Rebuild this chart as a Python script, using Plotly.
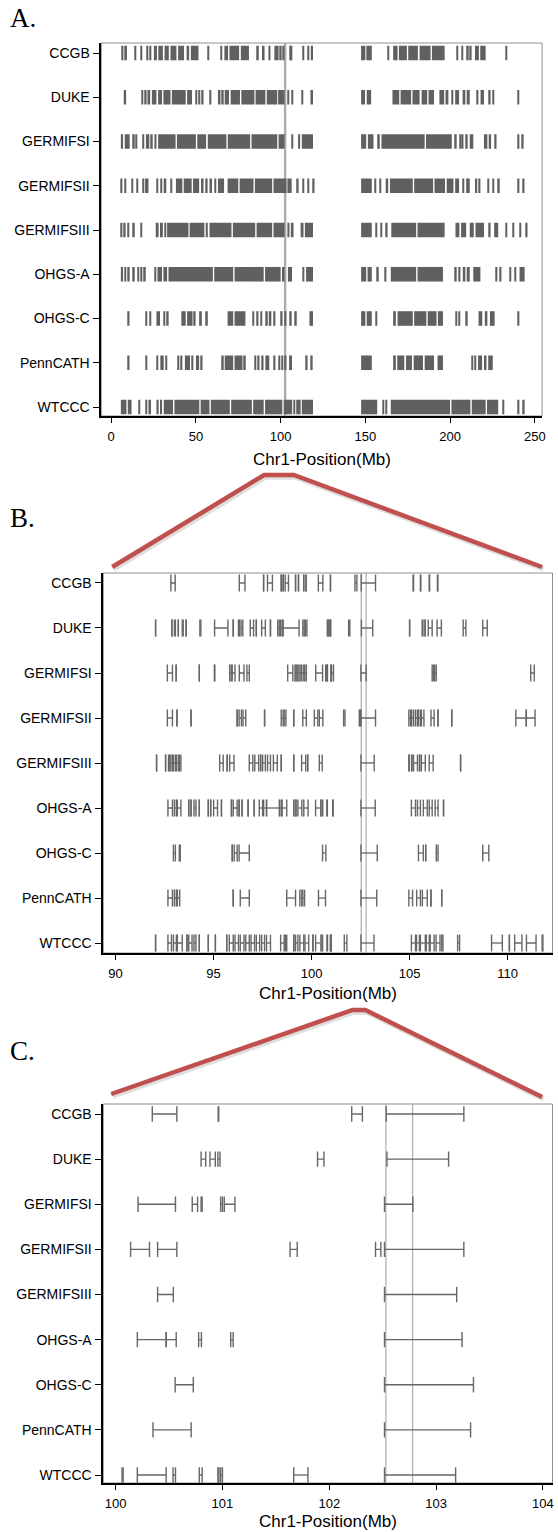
import plotly.graph_objects as go

W, H = 558, 1532

cohorts = ["CCGB", "DUKE", "GERMIFSI", "GERMIFSII", "GERMIFSIII",
           "OHGS-A", "OHGS-C", "PennCATH", "WTCCC"]

# ---------------- Panel A: genome-wide segments (Mb), (start, end); start==end -> single tick
genome_ccgb = [(6.3,7.2),(8.2,9.3),(13.7,13.7),(17.2,17.2),(21.0,21.0),(22.8,23.5),(25.2,27.0),(27.8,30.5),
               (31.5,34.0),(35.0,38.5),(39.5,43.0),(44.5,46.0),(47.0,51.5),(56.7,56.7),(64.5,64.5),(66.8,69.0),
               (69.8,75.5),(76.5,81.3),(86.2,86.2),(89.0,90.5),(92.8,94.0),(96.3,98.8),(99.2,100.6),(101.0,102.3),
               (105.2,105.2),(106.0,106.4),(112.8,112.8),(116.0,116.0),(117.8,119.1),
               (147.5,150.0),(150.6,153.8),(163.2,163.2),(166.4,169.0),(169.8,174.5),(175.3,181.0),(182.0,188.5),
               (189.3,196.8),(203.8,203.8),(206.7,206.7),(209.5,211.0),(211.8,212.6),(214.7,217.0),(217.8,221.0),
               (232.6,232.6)]
genome_duke = [(7.4,8.8),(17.9,17.9),(20.0,20.4),(21.4,23.0),(24.0,26.7),(27.7,30.0),(30.8,35.0),(35.8,44.0),
               (44.8,47.7),(49.8,49.8),(51.5,52.0),(53.6,53.6),(58.2,58.2),(63.0,64.5),(65.5,65.5),(67.0,69.5),
               (70.5,76.0),(76.8,84.5),(85.2,91.0),(91.8,98.0),(98.5,102.3),(104.0,104.0),(106.5,106.5),
               (112.4,112.4),(117.6,119.1),
               (147.5,149.8),(150.8,153.4),(166.0,170.0),(170.8,177.0),(177.8,182.0),(183.2,186.5),(187.3,190.5),
               (193.7,196.5),(197.3,199.0),(201.0,201.0),(203.0,205.3),(207.4,209.0),(209.8,211.6),(215.8,215.8),
               (218.0,220.0),(223.0,223.0),(225.2,225.2),(239.9,239.9)]
genome_germifsi = [(5.7,7.0),(8.0,10.9),(13.0,13.0),(14.5,15.1),(18.3,19.5),(20.5,22.5),(23.5,24.5),(25.5,26.7),
                   (27.7,38.0),(38.8,50.0),(50.8,56.0),(57.0,68.0),(68.8,82.0),(82.8,98.0),(98.8,102.3),
                   (106.5,106.5),(110.3,111.5),(112.5,119.1),
                   (147.5,150.5),(151.5,154.8),(157.0,158.5),(159.5,185.0),(185.8,201.0),(203.0,203.0),
                   (205.5,205.5),(207.0,207.0),(209.5,209.5),(211.6,213.7),(220.0,222.0),(222.8,224.2),
                   (226.5,226.5),(240.0,240.0),(242.5,243.0)]
genome_germifsii = [(5.7,5.7),(7.8,7.8),(12.0,12.0),(15.0,15.0),(18.5,18.5),(20.0,22.0),(26.7,27.5),(29.0,29.0),
                    (31.0,32.5),(35.0,35.0),(38.2,42.0),(42.8,47.5),(48.3,51.9),(53.0,54.5),(56.0,56.0),
                    (58.0,59.5),(61.0,61.0),(63.0,66.6),(68.7,75.0),(75.8,84.0),(84.8,95.0),(95.8,103.5),
                    (104.0,106.5),(109.7,109.7),(112.8,112.8),(116.0,116.0),(119.1,119.1),
                    (147.5,153.8),(155.5,155.5),(158.5,158.5),(162.0,163.5),(164.5,178.0),(178.8,190.0),
                    (190.8,197.0),(198.0,202.0),(203.0,205.3),(207.4,207.4),(209.5,211.6),(214.7,216.0),
                    (216.8,217.9),(222.0,222.0),(225.0,225.0),(228.4,228.4),(240.0,240.0),(243.0,243.0)]
genome_germifsiii = [(5.7,6.5),(7.5,8.5),(9.5,10.0),(13.0,13.0),(17.2,17.2),(26.3,28.0),(28.8,30.5),(31.5,32.0),
                     (33.0,45.6),(46.3,55.0),(55.8,57.0),(58.0,71.0),(71.8,85.0),(85.8,95.0),(95.8,102.3),
                     (104.0,105.2),(106.0,107.6),(111.8,113.5),(114.3,119.1),
                     (147.5,153.8),(155.9,155.9),(159.0,159.0),(162.2,162.2),(165.3,180.0),(180.8,196.8),
                     (203.2,205.5),(206.5,209.5),(211.6,214.0),(215.0,220.0),(223.0,223.0),(226.0,228.4),
                     (232.6,232.6),(236.8,236.8),(241.0,241.0),(244.8,245.0)]
genome_ohgsa = [(5.7,7.0),(8.0,8.6),(9.5,10.9),(13.0,13.0),(15.5,15.5),(17.5,17.5),(19.5,19.5),(25.6,26.5),
                (27.3,30.0),(30.8,33.0),(33.8,60.0),(60.8,72.0),(72.8,90.0),(90.8,100.0),(100.8,102.3),
                (104.3,106.7),(112.8,114.0),(115.0,119.1),
                (147.5,150.5),(151.3,153.8),(157.0,157.0),(161.5,161.5),(165.0,180.0),(180.8,195.8),
                (203.0,203.0),(205.2,205.2),(207.5,209.0),(209.8,211.6),(213.7,217.9),(227.0,227.0),
                (229.4,229.4),(235.0,235.0),(238.0,238.0),(241.0,244.0)]
genome_ohgsc = [(9.9,9.9),(20.4,20.4),(22.5,23.5),(26.7,28.8),(30.9,30.9),(33.0,33.0),(41.4,44.0),(44.8,48.0),
                (48.8,49.8),(51.9,53.5),(56.1,56.1),(68.7,72.0),(72.8,79.2),(83.4,83.4),(86.0,86.0),(88.0,89.0),
                (91.5,91.5),(93.0,94.5),(96.0,96.8),(100.2,101.0),(102.5,103.3),(105.5,106.5),(108.6,109.0),
                (117.0,119.1),
                (147.5,150.0),(150.8,153.8),(155.9,155.9),(166.4,168.0),(169.0,178.0),(178.8,186.0),
                (186.8,192.0),(192.8,195.8),(203.2,203.2),(205.0,206.0),(209.5,209.5),(216.8,219.0),
                (220.5,222.0),(223.5,226.3),(240.0,240.0)]
genome_penncath = [(9.9,9.9),(20.4,20.4),(26.7,26.7),(29.0,31.0),(32.0,33.0),(39.3,39.3),(41.0,42.0),(43.5,46.5),
                   (47.5,48.5),(50.0,51.9),(53.0,53.0),(65.5,66.0),(67.0,72.0),(72.8,77.5),(78.5,79.2),
                   (84.5,84.5),(86.6,87.5),(89.0,89.0),(91.0,93.3),(96.0,96.8),(98.7,99.6),(100.4,100.7),
                   (102.5,103.3),(105.0,106.7),(115.0,115.0),(118.0,118.0),
                   (147.5,153.8),(166.4,168.0),(168.8,173.0),(174.0,177.5),(178.5,184.0),(185.0,190.5),
                   (192.6,195.8),(212.6,212.6),(214.5,215.0),(216.5,218.9),(220.0,221.5),(222.5,225.2)]
genome_wtccc = [(5.7,9.0),(9.8,12.0),(16.2,16.2),(20.4,20.4),(22.0,23.5),(26.7,28.0),(28.8,30.0),(31.0,36.5),
                (37.3,52.0),(52.8,58.0),(58.8,70.0),(70.8,83.0),(83.8,90.0),(90.8,101.0),(101.8,106.8),
                (107.5,107.5),(109.2,111.8),(112.5,119.1),
                (147.5,157.0),(160.0,160.0),(162.0,162.0),(165.0,200.0),(200.8,212.0),(212.8,221.0),
                (221.8,228.4),(231.0,231.0),(240.0,240.0),(243.0,244.0)]

genome_segments = [genome_ccgb, genome_duke, genome_germifsi, genome_germifsii, genome_germifsiii,
                   genome_ohgsa, genome_ohgsc, genome_penncath, genome_wtccc]

# ---------------- Panels B & C: fine intervals (Mb)
fine_ccgb = [(92.82,93.04),(96.31,96.6),(97.55,97.55),(97.75,98.0),(98.45,98.45),(98.55,98.55),(98.65,98.82),
             (99.18,99.18),(99.33,99.33),(99.6,99.6),(99.72,99.72),
             (100.343,100.573),(100.96,100.965),(102.21,102.31),(102.533,103.26),
             (105.18,105.2),(105.55,105.57),(106.0,106.02),(106.42,106.44)]
fine_duke = [(92.04,92.04),(92.87,92.87),(93.0,93.05),(93.2,93.2),(93.4,93.45),(93.6,93.6),(94.3,94.35),
             (95.05,95.73),(96.0,96.0),(96.27,96.32),(96.4,96.49),(96.87,97.04),(97.18,97.18),(97.45,97.64),
             (97.9,97.9),(98.27,98.35),(98.42,98.5),(98.55,99.36),(99.55,99.62),(99.68,99.76),
             (100.80,100.843),(100.883,100.933),(100.957,100.977),(101.89,101.95),(102.54,103.117),
             (105.0,105.0),(105.64,105.68),(105.78,105.8),(105.95,106.15),(106.4,106.62),(107.73,107.87),
             (108.73,108.96)]
fine_germifsi = [(92.64,92.9),(93.09,93.09),(94.27,94.27),(95.04,95.06),(95.82,95.9),(95.95,96.09),(96.31,96.55),
                 (96.7,96.82),(98.78,99.04),(99.15,99.2),(99.25,99.3),(99.36,99.45),(99.5,99.6),(99.65,99.73),
                 (100.21,100.56),(100.717,100.767),(100.80,100.81),(100.983,101.0),(101.017,101.117),
                 (102.517,102.783),
                 (106.15,106.22),(106.28,106.36),(111.18,111.36)]
fine_germifsii = [(92.64,92.9),(93.13,93.13),(93.85,93.85),(96.2,96.2),(96.3,96.42),(96.5,96.64),(97.6,97.6),
                  (98.45,98.55),(98.6,98.69),(99.09,99.09),(99.55,99.73),
                  (100.14,100.317),(100.393,100.573),(101.633,101.70),(102.433,102.483),(102.517,103.26),
                  (104.96,105.05),(105.1,105.2),(105.3,105.4),(105.45,105.55),(105.6,105.73),(106.09,106.25),
                  (106.45,106.45),(107.15,107.15),(110.42,110.95),(110.95,111.4)]
fine_germifsiii = [(92.09,92.09),(92.55,92.55),(92.7,92.75),(92.82,92.9),(92.95,93.05),(93.1,93.2),(93.25,93.33),
                   (95.31,95.49),(95.69,95.69),(95.82,96.04),(96.82,97.0),(97.1,97.3),(97.4,97.4),(97.5,97.64),
                   (97.75,97.9),(98.05,98.25),(98.45,98.45),(99.09,99.09),(99.49,99.7),(99.8,99.8),
                   (100.393,100.54),(102.517,103.193),
                   (104.96,104.98),(105.1,105.12),(105.2,105.4),(105.5,105.52),(105.6,105.8),(106.0,106.2),
                   (107.6,107.6)]
fine_ohgsa = [(92.67,92.9),(93.0,93.1),(93.15,93.33),(93.73,93.73),(93.85,93.85),(94.0,94.1),(94.27,94.27),
              (94.73,94.73),(94.85,94.85),(95.0,95.2),(95.4,95.4),(95.91,95.91),(96.0,96.2),(96.3,96.3),
              (96.45,96.45),(96.76,96.76),(97.07,97.07),(97.33,97.5),(97.55,97.7),(97.7,98.36),(98.36,98.45),
              (98.5,98.73),(99.09,99.09),(99.2,99.2),(99.3,99.5),(99.6,99.82),
              (100.203,100.473),(100.473,100.567),(100.777,100.803),(101.077,101.10),(102.517,103.243),
              (105.09,105.3),(105.4,105.55),(105.7,105.9),(106.0,106.15),(106.3,106.45),(106.73,106.73)]
fine_ohgsc = [(92.95,93.05),(93.25,93.3),(95.95,95.95),(96.05,96.2),(96.3,96.82),
              (100.557,100.727),(102.517,103.35),
              (105.45,105.7),(105.82,105.82),(106.36,106.45),(108.73,109.04)]
fine_penncath = [(92.67,92.9),(93.0,93.1),(93.15,93.27),(96.0,96.0),(96.36,96.82),(98.73,99.18),(99.4,99.5),
                 (99.55,99.64),
                 (100.35,100.707),(102.517,103.323),
                 (104.96,105.15),(105.36,105.55),(105.65,105.9),(106.09,106.09),(106.64,106.64)]
fine_wtccc = [(92.04,92.04),(92.67,92.85),(92.95,93.1),(93.15,93.4),(93.64,93.64),(93.73,93.9),(94.0,94.1),
              (94.27,94.27),(94.73,94.73),(95.09,95.09),(95.67,95.67),(95.8,96.0),(96.09,96.27),(96.36,96.55),
              (96.64,96.82),(96.91,97.09),(97.18,97.35),(97.45,97.6),(97.7,97.9),(98.42,98.6),(98.66,98.73),
              (99.09,99.09),(99.18,99.3),(99.4,99.6),(99.66,99.85),
              (100.06,100.07),(100.203,100.473),(100.537,100.56),(100.783,100.81),(100.957,100.967),
              (100.983,101.0),(101.667,101.80),(102.517,103.183),
              (105.09,105.3),(105.35,105.5),(105.55,105.8),(105.85,106.0),(106.05,106.25),(106.35,106.55),
              (106.64,106.7),(107.45,107.55),(109.18,109.73),(110.09,110.09),(110.36,110.73),(110.96,111.45),
              (111.76,111.8)]

fine_intervals = [fine_ccgb, fine_duke, fine_germifsi, fine_germifsii, fine_germifsiii,
                  fine_ohgsa, fine_ohgsc, fine_penncath, fine_wtccc]

ref_lines = [102.53, 102.78]

ticks_A = [0, 50, 100, 150, 200, 250]
ticks_B = [90, 95, 100, 105, 110]
ticks_C = [100, 101, 102, 103, 104]

# ---------------- helpers (pixel -> paper)
def px(x):
    return x / W

def py(y):
    return 1 - y / H

FONT = "Liberation Sans, Arial, sans-serif"
MARK = "#606060"
LINE = "#666666"

fig = go.Figure()

# Panel A bars
bx, by, bb = [], [], []
for i, segs in enumerate(genome_segments):
    for s, e in segs:
        bb.append(s)
        bx.append(max(e - s, 0.9))
        by.append(i)
fig.add_trace(go.Bar(x=bx, y=by, base=bb, orientation="h", width=0.33,
                     marker=dict(color=MARK, line=dict(width=0)),
                     xaxis="x", yaxis="y", showlegend=False, hoverinfo="skip"))

# Panels B & C intervals
lx, ly, cx, cy = [], [], [], []
for i, ints in enumerate(fine_intervals):
    for s, e in ints:
        lx += [s, e, None]
        ly += [i, i, None]
        cx += [s, e]
        cy += [i, i]

for ax, cap in (("2", 12), ("3", 11)):
    fig.add_trace(go.Scatter(x=lx, y=ly, mode="lines", line=dict(color=LINE, width=1.3),
                             xaxis="x" + ax, yaxis="y" + ax, showlegend=False, hoverinfo="skip"))
    fig.add_trace(go.Scatter(x=cx, y=cy, mode="markers",
                             marker=dict(symbol="line-ns-open", size=cap, color=LINE,
                                         line=dict(width=1.4, color=LINE)),
                             xaxis="x" + ax, yaxis="y" + ax, showlegend=False, hoverinfo="skip"))

panels = [
    dict(k="", xr=[-5.86, 254.3], xdom=(102, 546), ydom=(43, 416), yr=[8.203, -0.226], ticks=ticks_A),
    dict(k="2", xr=[89.37, 112.29], xdom=(104, 556.5), ydom=(573, 953), yr=[8.222, -0.222], ticks=ticks_B),
    dict(k="3", xr=[99.884, 104.09], xdom=(104, 556.5), ydom=(1104, 1483), yr=[8.177, -0.222], ticks=ticks_C),
]
title_y = [459, 993, 1521]

layout = dict(width=W, height=H, margin=dict(l=0, r=0, t=0, b=0),
              paper_bgcolor="white", plot_bgcolor="white", barmode="overlay",
              showlegend=False, font=dict(family=FONT, color="black"))
shapes = []
annotations = []
for p, ty in zip(panels, title_y):
    k = p["k"]
    layout["xaxis" + k] = dict(domain=[px(p["xdom"][0]), px(p["xdom"][1])], range=p["xr"],
                               anchor="y" + k, tickvals=p["ticks"], ticks="outside", ticklen=5,
                               tickwidth=1.2, tickcolor="black", showline=True, linecolor="black",
                               linewidth=1.5, showgrid=False, zeroline=False,
                               tickfont=dict(size=13, family=FONT), ticklabelstandoff=3)
    layout["yaxis" + k] = dict(domain=[py(p["ydom"][1]), py(p["ydom"][0])], range=p["yr"],
                               anchor="x" + k, tickvals=list(range(len(cohorts))), ticktext=cohorts,
                               ticks="outside", ticklen=7, tickwidth=1.2, tickcolor="black",
                               showline=True, linecolor="black", linewidth=1.5, showgrid=False,
                               zeroline=False, tickfont=dict(size=14, family=FONT))
    xd = "x" + k + " domain"
    yd = "y" + k + " domain"
    shapes.append(dict(type="rect", xref=xd, yref=yd, x0=0, x1=1, y0=0, y1=1,
                       line=dict(color="#8f8f8f", width=1), layer="below"))
    for r in ref_lines:
        shapes.append(dict(type="line", xref="x" + k, yref=yd, x0=r, x1=r, y0=0, y1=1,
                           line=dict(color="#adadad", width=2 if k == "" else 1.2), layer="below"))
    annotations.append(dict(text="Chr1-Position(Mb)", xref="paper", yref="paper",
                            x=px((p["xdom"][0] + p["xdom"][1]) / 2), y=py(ty),
                            xanchor="center", yanchor="middle", showarrow=False,
                            font=dict(size=17, family=FONT, color="black")))

# zoom connector lines (pixel coordinates of the page)
connectors = [
    [(113, 567), (266, 475), (296, 475), (546, 567)],
    [(112, 1094), (355, 1010), (368, 1010), (546, 1097)],
]
for pts in connectors:
    d_shadow = "M " + " L ".join(f"{px(x + 1.5)},{py(y + 2)}" for x, y in pts)
    d = "M " + " L ".join(f"{px(x)},{py(y)}" for x, y in pts)
    shapes.append(dict(type="path", xref="paper", yref="paper", path=d_shadow,
                       line=dict(color="rgba(0,0,0,0.13)", width=5.5), layer="above"))
    shapes.append(dict(type="path", xref="paper", yref="paper", path=d,
                       line=dict(color="#c0504d", width=4.5), layer="above"))

for lab, yc in (("A.", 18), ("B.", 518), ("C.", 1051)):
    annotations.append(dict(text=lab, xref="paper", yref="paper", x=px(8), y=py(yc),
                            xanchor="left", yanchor="middle", showarrow=False,
                            font=dict(size=27, family="Liberation Serif, Times New Roman, serif",
                                      color="black")))

layout["shapes"] = shapes
layout["annotations"] = annotations
fig.update_layout(**layout)

fig.write_html("out.html", config={"displayModeBar": False},
               post_script="document.body.style.margin='0';document.body.style.overflow='hidden';")
